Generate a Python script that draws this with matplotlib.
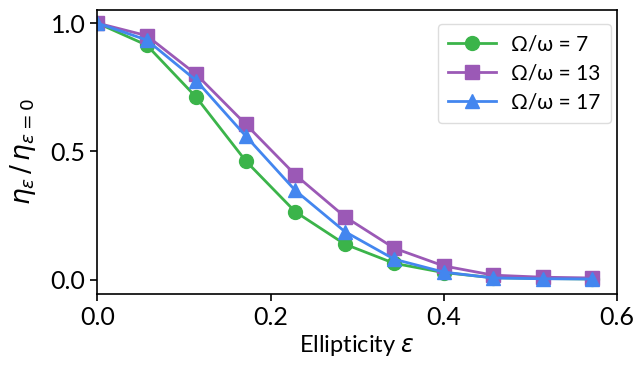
import numpy as np
import matplotlib
matplotlib.use("Agg")
import matplotlib.pyplot as plt

plt.rcParams['font.family'] = ['Lato', 'DejaVu Sans']
plt.rcParams['mathtext.fontset'] = 'dejavusans'

# Ellipticity sample points
eps = [0.0, 0.0571, 0.1143, 0.1714, 0.2286, 0.2857, 0.3429, 0.4, 0.4571, 0.5143, 0.5714]

# Normalised efficiency for each frequency ratio
eta_7 = [1.0, 0.914, 0.711, 0.463, 0.265, 0.139, 0.064, 0.028, 0.008, 0.005, 0.003]
eta_13 = [1.0, 0.951, 0.800, 0.606, 0.409, 0.246, 0.123, 0.054, 0.018, 0.010, 0.007]
eta_17 = [1.0, 0.934, 0.776, 0.560, 0.348, 0.188, 0.080, 0.030, 0.007, 0.004, 0.003]

labels = ['Ω/ω = 7', 'Ω/ω = 13', 'Ω/ω = 17']

fig, ax = plt.subplots(figsize=(6.36, 3.66), dpi=100)
fig.subplots_adjust(left=0.153, right=0.970, top=0.972, bottom=0.197)

ax.plot(eps, eta_7, '-o', color='#3bb44a', lw=2, ms=10, label=labels[0])
ax.plot(eps, eta_13, '-s', color='#9b59b6', lw=2, ms=10, label=labels[1])
ax.plot(eps, eta_17, '-^', color='#4386ef', lw=2, ms=10, label=labels[2])

ax.set_xlim(0, 0.6)
ax.set_ylim(-0.055, 1.05)
ax.set_xticks([0.0, 0.2, 0.4, 0.6])
ax.set_yticks([0.0, 0.5, 1.0])
ax.tick_params(labelsize=18, length=5, width=1.2)
for s in ax.spines.values():
    s.set_linewidth(1.2)

ax.set_xlabel(r'Ellipticity $\varepsilon$', fontsize=17, labelpad=3)
ax.set_ylabel(r'$\eta_\varepsilon\,/\,\eta_{\varepsilon=0}$', fontsize=19, labelpad=9)

leg = ax.legend(loc='upper right', fontsize=15, handlelength=2.3, borderpad=0.5,
                labelspacing=0.45, handletextpad=0.7, fancybox=True, framealpha=1,
                edgecolor='#dddddd', bbox_to_anchor=(1.0, 0.975), borderaxespad=0.3)

fig.savefig('out.png', dpi=100)
